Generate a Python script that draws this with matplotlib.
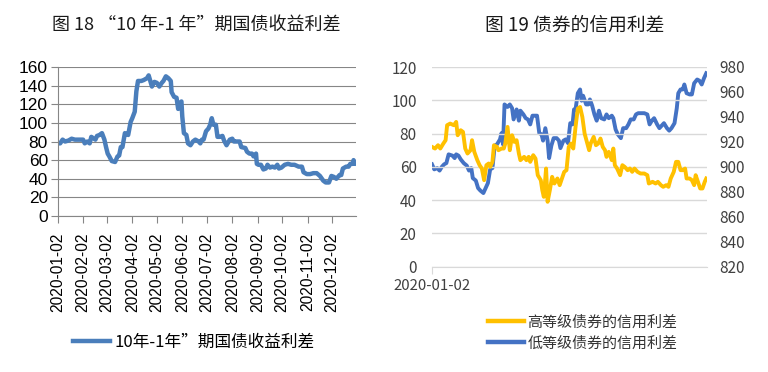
import matplotlib
matplotlib.use("Agg")
import matplotlib.pyplot as plt
from matplotlib.lines import Line2D
import pandas as pd

plt.rcParams['font.family'] = ['Liberation Sans', 'Noto Sans CJK SC', 'DejaVu Sans']

# ---------------- Left chart data: 10Y-1Y government bond spread (bp) ----------------
spread_dates = [
    "2020-01-02", "2020-01-05", "2020-01-08", "2020-01-11", "2020-01-15", "2020-01-19", "2020-01-23", "2020-01-29",
    "2020-02-02", "2020-02-04", "2020-02-07", "2020-02-10", "2020-02-12", "2020-02-17", "2020-02-19", "2020-02-22",
    "2020-02-25", "2020-02-28", "2020-03-01", "2020-03-03", "2020-03-05", "2020-03-08", "2020-03-12", "2020-03-15",
    "2020-03-17", "2020-03-19", "2020-03-21", "2020-03-24", "2020-03-28", "2020-03-31", "2020-04-02", "2020-04-05",
    "2020-04-07", "2020-04-09", "2020-04-13", "2020-04-16", "2020-04-20", "2020-04-22", "2020-04-24", "2020-04-26",
    "2020-04-29", "2020-05-02", "2020-05-05", "2020-05-08", "2020-05-10", "2020-05-13", "2020-05-16", "2020-05-19",
    "2020-05-20", "2020-05-23", "2020-05-26", "2020-05-28", "2020-05-30", "2020-06-01", "2020-06-02", "2020-06-04",
    "2020-06-07", "2020-06-09", "2020-06-12", "2020-06-15", "2020-06-18", "2020-06-22", "2020-06-24", "2020-06-26",
    "2020-06-28", "2020-07-01", "2020-07-04", "2020-07-06", "2020-07-08", "2020-07-10", "2020-07-13", "2020-07-15",
    "2020-07-18", "2020-07-21", "2020-07-23", "2020-07-26", "2020-07-30", "2020-08-02", "2020-08-04", "2020-08-07",
    "2020-08-11", "2020-08-13", "2020-08-18", "2020-08-20", "2020-08-23", "2020-08-26", "2020-08-28", "2020-08-31",
    "2020-09-01", "2020-09-03", "2020-09-06", "2020-09-09", "2020-09-12", "2020-09-14", "2020-09-17", "2020-09-20",
    "2020-09-23", "2020-09-26", "2020-09-28", "2020-10-01", "2020-10-05", "2020-10-09", "2020-10-13", "2020-10-17",
    "2020-10-22", "2020-10-26", "2020-10-28", "2020-11-01", "2020-11-05", "2020-11-09", "2020-11-13", "2020-11-17",
    "2020-11-21", "2020-11-24", "2020-11-28", "2020-12-01", "2020-12-04", "2020-12-07", "2020-12-11", "2020-12-13",
    "2020-12-15", "2020-12-19", "2020-12-22", "2020-12-24", "2020-12-27", "2020-12-28", "2020-12-30",
]
spread_values = [
    78, 78, 82, 80, 81, 83, 82, 82,
    82, 78, 80, 78, 85, 82, 86, 87,
    89, 82, 74, 67, 64, 59, 58, 64,
    65, 74, 74, 89, 87, 101, 105, 112,
    134, 145, 145, 146, 148, 151, 145, 139,
    144, 143, 139, 143, 145, 150, 148, 145,
    133, 128, 127, 115, 121, 123, 107, 89,
    87, 78, 76, 80, 82, 80, 78, 82,
    82, 91, 94, 98, 105, 98, 98, 85,
    85, 86, 81, 76, 82, 83, 80, 80,
    80, 74, 73, 69, 67, 67, 64, 67,
    56, 55, 55, 50, 51, 55, 52, 53,
    52, 55, 51, 52, 55, 56, 55, 55,
    53, 53, 47, 45, 45, 46, 46, 43,
    38, 36, 36, 43, 42, 40, 44, 44,
    51, 53, 53, 56, 56, 60, 56,
]
spread_ticks = ["2020-01-02", "2020-02-02", "2020-03-02", "2020-04-02", "2020-05-02", "2020-06-02",
                "2020-07-02", "2020-08-02", "2020-09-02", "2020-10-02", "2020-11-02", "2020-12-02"]
spread_label = "10年-1年”期国债收益利差"

# ---------------- Right chart data: credit spreads ----------------
start_date = "2020-01-02"
# days since start_date
high_days = [0, 4, 8, 11, 15, 18, 20, 24, 29, 32, 34, 38, 41, 44, 47, 51, 53, 56, 60, 63, 66, 69, 72, 75, 77, 80,
             82, 86, 88, 92, 95, 97, 100, 103, 106, 109, 112, 115, 117, 122, 125, 128, 130, 134, 137, 140, 144, 146,
             148, 151, 153, 156, 159, 162, 166, 169, 172, 175, 178, 181, 184, 187, 190, 193, 196, 199, 202, 205, 208,
             210, 214, 217, 220, 223, 226, 229, 231, 234, 238, 240, 242, 245, 249, 252, 255, 259, 262, 265, 268, 272,
             276, 281, 285, 287, 292, 296, 299, 303, 306, 310, 313, 316, 320, 323, 326, 329, 332, 335, 337, 341, 344,
             347, 349, 352, 355, 358, 361, 363]
high_grade = [72, 71, 73, 71, 74, 76, 85, 86, 85, 87, 79, 82, 81, 71, 68, 70, 76, 69, 64, 61, 59, 52, 61, 62, 60, 63,
              73, 72, 70, 71, 71, 74, 84, 70, 79, 75, 76, 68, 64, 66, 64, 66, 63, 67, 65, 55, 52, 46,
              42, 59, 39, 46, 54, 50, 53, 49, 53, 57, 58, 72, 74, 71, 84, 95, 96, 90, 80, 75, 70,
              74, 78, 73, 74, 77, 72, 70, 66, 69, 64, 71, 61, 59, 55, 61, 60, 58, 59, 57, 59, 57,
              56, 56, 55, 50, 51, 50, 51, 49, 48, 49, 48, 53, 57, 63, 63, 58, 58, 59, 53, 53, 52,
              49, 55, 51, 47, 47, 51, 53]
low_days = [0, 3, 7, 10, 13, 16, 19, 22, 27, 30, 32, 35, 38, 42, 46, 49, 52, 54, 58, 61, 64, 68, 71, 74, 77, 80, 83,
            86, 90, 92, 94, 96, 100, 103, 106, 108, 112, 115, 117, 121, 124, 127, 130, 133, 136, 139, 142, 145, 147,
            150, 153, 155, 158, 161, 165, 168, 170, 174, 177, 180, 183, 186, 188, 190, 193, 196, 198, 200, 204, 207,
            209, 212, 215, 218, 221, 224, 228, 231, 234, 238, 240, 243, 246, 250, 253, 257, 260, 263, 267, 270, 273,
            276, 281, 285, 288, 291, 294, 298, 301, 304, 307, 311, 314, 317, 321, 324, 326, 329, 332, 334, 337, 341,
            344, 347, 351, 354, 357, 360, 363]
low_grade = [902, 898, 899, 897, 900, 902, 903, 910, 909, 907, 910, 909, 906, 903, 901, 897, 899, 891, 889, 883, 881,
             879, 883, 887, 898, 899, 917, 918, 922, 927, 918, 950, 948, 950, 947, 938, 946, 937, 945, 942, 939, 938,
             934, 941, 941, 941, 927, 926, 921, 931, 921, 907, 917, 923, 923, 921, 915, 921, 922, 919, 935, 934, 946,
             946, 959, 962, 953, 957, 950, 950, 954, 949, 942, 937, 945, 939, 938, 942, 939, 941, 939, 930, 926, 923,
             931, 931, 934, 938, 938, 942, 943, 943, 943, 942, 934, 937, 939, 934, 931, 933, 935, 931, 929, 931, 935,
             947, 959, 962, 962, 966, 959, 958, 958, 967, 970, 969, 966, 971, 975]
high_label = "高等级债券的信用利差"
low_label = "低等级债券的信用利差"

BLUE_L = "#4a7ebb"
BLUE_R = "#4472c4"
YELLOW = "#ffc000"

fig = plt.figure(figsize=(7.68, 3.72), dpi=100)

# ================= Left chart =================
axL = fig.add_axes([57.7 / 768, 1 - 216 / 372, 298.3 / 768, 149 / 372])
dL = pd.to_datetime(spread_dates)
axL.plot(dL, spread_values, color=BLUE_L, lw=3.2, solid_joinstyle='round', solid_capstyle='round')
axL.set_xlim(pd.Timestamp("2020-01-02"), pd.Timestamp("2020-12-31"))
axL.set_ylim(0, 160)
axL.set_yticks(range(0, 161, 20))
axL.set_xticks(pd.to_datetime(spread_ticks))
axL.set_xticklabels(spread_ticks, rotation=90, fontsize=11.2, family='Liberation Sans')
axL.tick_params(axis='y', labelsize=12.5, length=5, color='#868686', width=0.8, pad=2)
axL.tick_params(axis='x', length=5, color='#868686', width=0.8, pad=7)
axL.grid(axis='y', color='#868686', lw=0.8)
axL.set_axisbelow(True)
for s in ['top', 'right']:
    axL.spines[s].set_visible(False)
for s in ['left', 'bottom']:
    axL.spines[s].set_color('#868686')
    axL.spines[s].set_linewidth(0.8)

fig.text(196 / 768, 1 - 25 / 372, "图 18 “10 年-1 年”期国债收益利差", ha='center', va='center',
         fontsize=13, family=['Noto Sans CJK SC', 'DejaVu Sans'], color='#1a1a1a')

fig.legend([Line2D([], [], color=BLUE_L, lw=3.2)], [spread_label], loc='center left',
           bbox_to_anchor=(58 / 768, 1 - 342 / 372), frameon=False, handlelength=2.2, handletextpad=0.3,
           prop={'family': ['Noto Sans CJK SC', 'DejaVu Sans'], 'size': 12})

# ================= Right chart =================
axR = fig.add_axes([432 / 768, 1 - 266.7 / 372, 275 / 768, 199.7 / 372])
axR2 = axR.twinx()
t0 = pd.Timestamp(start_date)
dH = t0 + pd.to_timedelta(high_days, unit='D')
dW = t0 + pd.to_timedelta(low_days, unit='D')
axR2.plot(dW, low_grade, color=BLUE_R, lw=2.8, solid_joinstyle='round')
axR.plot(dH, high_grade, color=YELLOW, lw=2.8, solid_joinstyle='round')
axR.set_zorder(axR2.get_zorder() + 1)
axR.patch.set_visible(False)
axR.set_xlim(t0, t0 + pd.Timedelta(days=364))
axR.set_ylim(0, 120)
axR.set_yticks(range(0, 121, 20))
axR2.set_ylim(820, 980)
axR2.set_yticks(range(820, 981, 20))
axR.set_xticks([t0])
axR.set_xticklabels([start_date])
fontR = ['Noto Sans CJK SC', 'DejaVu Sans']
for lab in axR.get_yticklabels() + axR2.get_yticklabels():
    lab.set_family(fontR)
    lab.set_fontsize(11)
    lab.set_color('#404040')
for lab in axR.get_xticklabels():
    lab.set_family(fontR)
    lab.set_fontsize(10.8)
    lab.set_color('#404040')
axR.tick_params(axis='y', length=0, pad=11)
axR2.tick_params(axis='y', length=0, pad=9)
axR.tick_params(axis='x', length=5, color='#d9d9d9', pad=4)
axR.grid(axis='y', color='#d9d9d9', lw=1.0)
axR2.grid(False)
for a in (axR, axR2):
    for s in ['top', 'right', 'left']:
        a.spines[s].set_visible(False)
    a.spines['bottom'].set_color('#d9d9d9')
axR2.spines['bottom'].set_visible(False)

fig.text(575 / 768, 1 - 25 / 372, "图 19 债券的信用利差", ha='center', va='center',
         fontsize=13.5, family=fontR, color='#1a1a1a')

fig.legend([Line2D([], [], color=YELLOW, lw=3.2), Line2D([], [], color=BLUE_R, lw=3.2)],
           [high_label, low_label], loc='center left',
           bbox_to_anchor=(474 / 768, 1 - 333 / 372), frameon=False, handlelength=2.4, handletextpad=0.25,
           labelspacing=0.45, prop={'family': fontR, 'size': 10.8}, labelcolor='#333333')

fig.savefig("out.png", dpi=100)
